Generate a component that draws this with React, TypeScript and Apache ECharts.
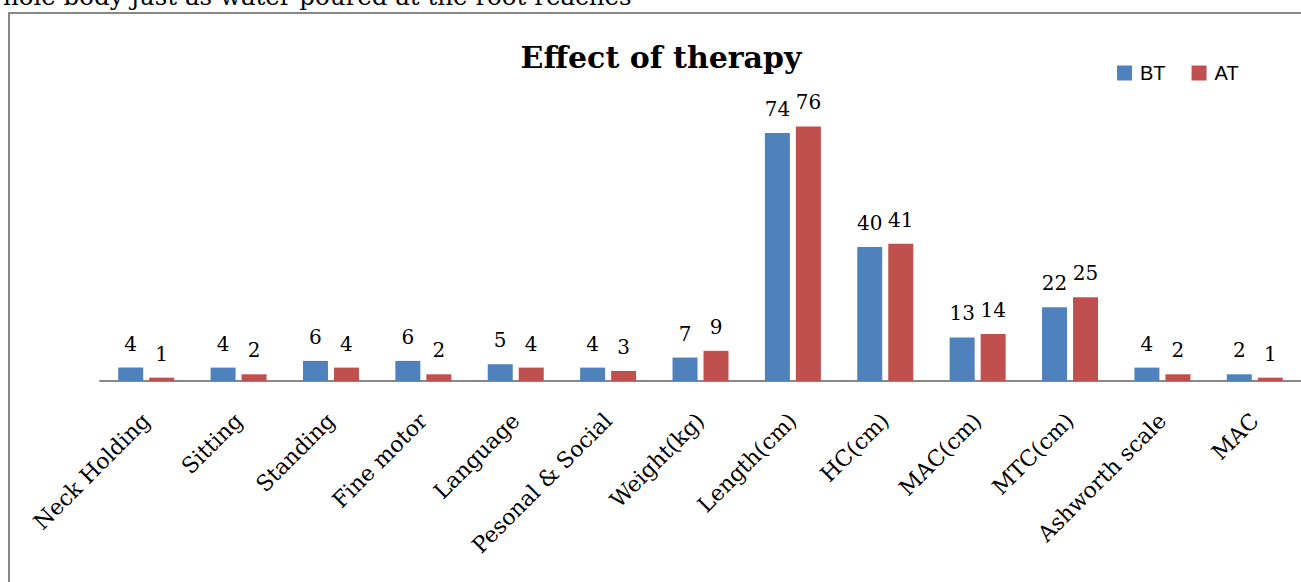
import React, { useEffect, useRef } from "react";
import * as echarts from "echarts";

const categories = [
  "Neck Holding",
  "Sitting",
  "Standing",
  "Fine motor",
  "Language",
  "Pesonal & Social",
  "Weight(kg)",
  "Length(cm)",
  "HC(cm)",
  "MAC(cm)",
  "MTC(cm)",
  "Ashworth scale",
  "MAC",
];
const btValues = [4, 4, 6, 6, 5, 4, 7, 74, 40, 13, 22, 4, 2];
const atValues = [1, 2, 4, 2, 4, 3, 9, 76, 41, 14, 25, 2, 1];
const seriesNames = ["BT", "AT"];
const titleText = "Effect of therapy";
const topText = "whole body just as water poured at the root reaches";

export default function App() {
  const ref = useRef<HTMLDivElement>(null);
  useEffect(() => {
    if (!ref.current) return;
    const chart = echarts.init(ref.current, undefined, { renderer: "svg" });
    const serif = "DejaVu Serif";
    const labelStyle = {
      show: true,
      position: "top" as const,
      distance: 14,
      color: "#000",
      fontSize: 20,
      fontFamily: serif,
    };
    chart.setOption({
      animation: false,
      backgroundColor: "#fff",
      title: {
        text: titleText,
        left: 656,
        textAlign: "center",
        top: 37,
        textStyle: {
          fontFamily: serif,
          fontWeight: "bold",
          fontSize: 30,
          color: "#000",
        },
      },
      legend: {
        data: seriesNames,
        left: 1112,
        top: 58,
        icon: "rect",
        itemWidth: 15,
        itemHeight: 15,
        itemGap: 26,
        textStyle: {
          fontFamily: "Liberation Sans",
          fontSize: 20,
          color: "#000",
          padding: [0, 0, 0, 3],
        },
      },
      graphic: [
        {
          type: "rect",
          shape: { x: 9, y: 13, width: 1400, height: 700 },
          style: { fill: "none", stroke: "#878787", lineWidth: 2 },
          silent: true,
        },
        {
          type: "text",
          x: -18,
          y: 9,
          style: {
            text: topText,
            fontFamily: serif,
            fontSize: 24.5,
            fill: "#000",
            textVerticalAlign: "bottom",
          },
          silent: true,
        },
      ],
      grid: { left: 100, top: 113, width: 1212, height: 268, containLabel: false },
      xAxis: {
        type: "category",
        data: categories,
        boundaryGap: true,
        axisLine: { lineStyle: { color: "#888888", width: 2 } },
        axisTick: { show: false },
        axisLabel: {
          rotate: 45,
          interval: 0,
          margin: 36,
          fontFamily: serif,
          fontSize: 22,
          color: "#000",
        },
      },
      yAxis: {
        type: "value",
        min: 0,
        max: 80,
        show: false,
        splitLine: { show: false },
      },
      series: [
        {
          name: seriesNames[0],
          type: "bar",
          data: btValues,
          barWidth: 25,
          barGap: "24%",
          itemStyle: { color: "#4F81BD" },
          label: labelStyle,
        },
        {
          name: seriesNames[1],
          type: "bar",
          data: atValues,
          barWidth: 25,
          itemStyle: { color: "#C0504D" },
          label: labelStyle,
        },
      ],
    });
    return () => chart.dispose();
  }, []);
  return (
    <div
      ref={ref}
      style={{ position: "absolute", left: 0, top: 0, width: 1301, height: 582 }}
    />
  );
}
